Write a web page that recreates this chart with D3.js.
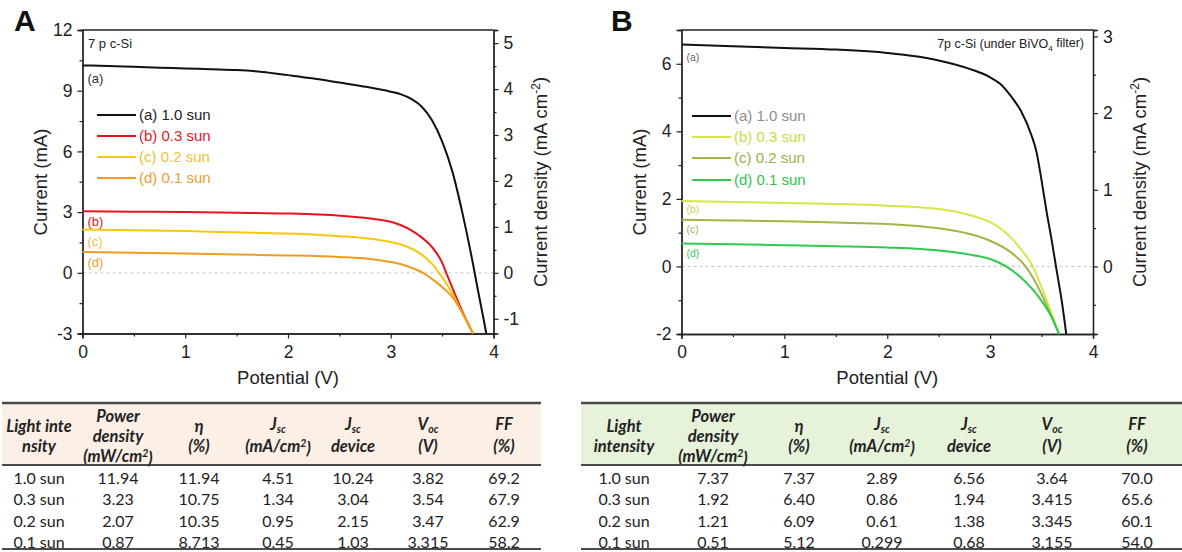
<!DOCTYPE html>
<html><head><meta charset="utf-8">
<script src="https://cdn.jsdelivr.net/npm/d3@7"></script>
<style>
html,body{margin:0;padding:0;background:#fff;}
svg{display:block;}
</style></head>
<body><svg id="chart" width="1182" height="552"></svg>
<script>
// ---------------- DATA ----------------
const sunLabels = ["(a) 1.0 sun", "(b) 0.3 sun", "(c) 0.2 sun", "(d) 0.1 sun"];
const curveTags = ["(a)", "(b)", "(c)", "(d)"];
const deviceArea = 2.27; // cm², ratio of Jsc device / Jsc

// Panel A (7 p c-Si)
const aV_a = [0, 0.25, 0.5, 0.75, 1.0, 1.25, 1.5, 1.75, 2.0, 2.25, 2.5, 2.75, 3.0, 3.1, 3.2, 3.3, 3.4, 3.5, 3.6, 3.7, 3.8, 3.85, 3.9, 3.93];
const aI_a = [10.25, 10.22, 10.18, 10.14, 10.1, 10.06, 10.02, 9.93, 9.77, 9.6, 9.4, 9.2, 8.95, 8.82, 8.6, 8.22, 7.55, 6.5, 5.0, 2.9, 0.45, -0.9, -2.2, -3];
const aV_b = [0, 0.5, 1.0, 1.5, 2.0, 2.5, 2.8, 3.0, 3.1, 3.2, 3.3, 3.4, 3.5, 3.54, 3.6, 3.7, 3.8];
const aI_b = [3.04, 3.02, 3.0, 2.97, 2.93, 2.82, 2.68, 2.52, 2.35, 2.1, 1.75, 1.28, 0.5, 0, -0.75, -1.95, -3];
const aV_c = [0, 0.5, 1.0, 1.5, 2.0, 2.5, 2.8, 3.0, 3.1, 3.2, 3.3, 3.4, 3.47, 3.55, 3.6, 3.7, 3.8];
const aI_c = [2.14, 2.1, 2.06, 2.0, 1.94, 1.81, 1.68, 1.52, 1.4, 1.2, 0.9, 0.45, 0, -0.6, -1.04, -2.04, -3];
const aV_d = [0, 0.5, 1.0, 1.5, 2.0, 2.5, 2.8, 3.0, 3.1, 3.2, 3.315, 3.4, 3.5, 3.6, 3.7, 3.8];
const aI_d = [1.03, 0.99, 0.95, 0.9, 0.86, 0.78, 0.68, 0.53, 0.42, 0.25, 0, -0.3, -0.7, -1.2, -2.0, -3];

// Panel B (7p c-Si under BiVO4 filter)
const bV_a = [0, 0.5, 1.0, 1.5, 2.0, 2.5, 2.8, 3.0, 3.1, 3.2, 3.3, 3.4, 3.45, 3.5, 3.55, 3.6, 3.64, 3.7, 3.74];
const bI_a = [6.57, 6.52, 6.47, 6.42, 6.32, 6.1, 5.85, 5.6, 5.4, 5.05, 4.6, 3.9, 3.4, 2.55, 1.6, 0.75, 0, -1.1, -2];
const bV_b = [0, 0.5, 1.0, 1.5, 2.0, 2.5, 2.7, 2.85, 3.0, 3.2, 3.3, 3.415, 3.5, 3.6, 3.67];
const bI_b = [1.94, 1.91, 1.88, 1.85, 1.8, 1.7, 1.6, 1.48, 1.31, 0.86, 0.51, 0, -0.62, -1.42, -2];
const bV_c = [0, 0.5, 1.0, 1.5, 2.0, 2.5, 2.8, 3.0, 3.2, 3.345, 3.5, 3.6, 3.67];
const bI_c = [1.38, 1.36, 1.34, 1.3, 1.26, 1.13, 0.96, 0.76, 0.42, 0, -0.82, -1.51, -2];
const bV_d = [0, 0.5, 1.0, 1.5, 2.0, 2.5, 2.8, 3.0, 3.155, 3.3, 3.5, 3.6, 3.67];
const bI_d = [0.68, 0.66, 0.63, 0.6, 0.56, 0.47, 0.35, 0.22, 0, -0.33, -1.02, -1.51, -2];

// Axis ticks
const xTicks = [0, 1, 2, 3, 4];
const xMinor = [0.5, 1.5, 2.5, 3.5];
const aYTicks = [-3, 0, 3, 6, 9, 12];
const aYMinor = [-1.5, 1.5, 4.5, 7.5, 10.5];
const aRTicks = [-1, 0, 1, 2, 3, 4, 5];
const aRMinor = [-0.5, 0.5, 1.5, 2.5, 3.5, 4.5];
const bYTicks = [-2, 0, 2, 4, 6];
const bYMinor = [-1, 1, 3, 5];
const bRTicks = [0, 1, 2, 3];
const bRMinor = [-0.5, 0.5, 1.5, 2.5];

// Tables
const intensityLabels = ["1.0 sun", "0.3 sun", "0.2 sun", "0.1 sun"];
const powerA = ["11.94", "3.23", "2.07", "0.87"];
const etaA = ["11.94", "10.75", "10.35", "8.713"];
const jscA = ["4.51", "1.34", "0.95", "0.45"];
const jscDevA = ["10.24", "3.04", "2.15", "1.03"];
const vocA = ["3.82", "3.54", "3.47", "3.315"];
const ffA = ["69.2", "67.9", "62.9", "58.2"];
const powerB = ["7.37", "1.92", "1.21", "0.51"];
const etaB = ["7.37", "6.40", "6.09", "5.12"];
const jscB = ["2.89", "0.86", "0.61", "0.299"];
const jscDevB = ["6.56", "1.94", "1.38", "0.68"];
const vocB = ["3.64", "3.415", "3.345", "3.155"];
const ffB = ["70.0", "65.6", "60.1", "54.0"];

// ---------------- DRAW ----------------
const svg = d3.select("#chart");
const AX = "'Liberation Sans', Arial, sans-serif";
const TB = "Lato, 'Open Sans', sans-serif";
const fmt = d => String(d);

function panel(cfg) {
  const g = svg.append("g");
  const x = d3.scaleLinear([0, 4], cfg.xr);
  const y = d3.scaleLinear(cfg.yd, cfg.yr);
  const yR = d3.scaleLinear([cfg.yd[0] / deviceArea, cfg.yd[1] / deviceArea], cfg.yr);

  // zero line
  g.append("line").attr("x1", x(0)).attr("x2", x(4)).attr("y1", y(0)).attr("y2", y(0))
    .attr("stroke", "#c8c8c8").attr("stroke-width", 1).attr("stroke-dasharray", "3,3");

  function styleAxis(sel) {
    sel.selectAll(".domain").attr("stroke", "#222").attr("stroke-width", 1.3);
    sel.selectAll(".tick line").attr("stroke", "#222").attr("stroke-width", 1.2);
    sel.selectAll("text").attr("font-family", AX).attr("font-size", 17.5).attr("fill", "#222");
  }
  // minor ticks
  const mk = (axis, vals) => axis.tickValues(vals).tickSize(3).tickFormat("");
  g.append("g").attr("transform", `translate(0,${cfg.yr[0]})`).call(mk(d3.axisBottom(x), xMinor)).call(styleAxis);
  g.append("g").attr("transform", `translate(${cfg.xr[0]},0)`).call(mk(d3.axisLeft(y), cfg.yMinor)).call(styleAxis);
  g.append("g").attr("transform", `translate(${cfg.xr[1]},0)`).call(mk(d3.axisRight(yR), cfg.rMinor)).call(styleAxis);
  // major axes
  g.append("g").attr("transform", `translate(0,${cfg.yr[0]})`)
    .call(d3.axisBottom(x).tickValues(xTicks).tickSize(5).tickPadding(7).tickFormat(fmt)).call(styleAxis);
  g.append("g").attr("transform", `translate(${cfg.xr[0]},0)`)
    .call(d3.axisLeft(y).tickValues(cfg.yTicks).tickSize(5).tickPadding(5).tickFormat(fmt)).call(styleAxis);
  g.append("g").attr("transform", `translate(${cfg.xr[1]},0)`)
    .call(d3.axisRight(yR).tickValues(cfg.rTicks).tickSize(5).tickPadding(5).tickFormat(fmt)).call(styleAxis);
  // top frame
  g.append("line").attr("x1", cfg.xr[0]).attr("x2", cfg.xr[1]).attr("y1", cfg.yr[1]).attr("y2", cfg.yr[1])
    .attr("stroke", "#222").attr("stroke-width", 1.3);

  // curves
  const line = d3.line().x(d => x(d[0])).y(d => y(d[1])).curve(d3.curveMonotoneX);
  cfg.series.forEach((s, i) => {
    const pts = s.V.map((v, k) => [v, s.I[k]]);
    g.append("path").attr("d", line(pts)).attr("fill", "none")
      .attr("stroke", cfg.colors[i]).attr("stroke-width", 2).attr("stroke-linejoin", "round");
  });

  // curve tags
  cfg.tagY.forEach((ty, i) => {
    g.append("text").attr("x", cfg.xr[0] + cfg.tagDx).attr("y", ty).attr("dy", "0.35em")
      .attr("font-family", AX).attr("font-size", cfg.tagSize).attr("fill", cfg.tagColors[i]).text(curveTags[i]);
  });

  // legend
  sunLabels.forEach((lab, i) => {
    const ly = cfg.legY[i];
    g.append("line").attr("x1", cfg.legX).attr("x2", cfg.legX + 39).attr("y1", ly).attr("y2", ly)
      .attr("stroke", cfg.colors[i]).attr("stroke-width", 2);
    g.append("text").attr("x", cfg.legX + 42).attr("y", ly).attr("dy", "0.35em")
      .attr("font-family", AX).attr("font-size", 15).attr("fill", cfg.legText[i]).text(lab);
  });

  // axis titles
  const midX = (cfg.xr[0] + cfg.xr[1]) / 2;
  g.append("text").attr("x", midX).attr("y", 378).attr("dy", "0.35em").attr("text-anchor", "middle")
    .attr("font-family", AX).attr("font-size", 18.5).attr("fill", "#222").text("Potential (V)");
  g.append("text").attr("transform", `translate(${cfg.xr[0] - 42},${182}) rotate(-90)`)
    .attr("text-anchor", "middle").attr("dy", "0.35em")
    .attr("font-family", AX).attr("font-size", 18.5).attr("fill", "#222").text("Current (mA)");
  const rt = g.append("text").attr("transform", `translate(${cfg.xr[1] + 47},${182}) rotate(-90)`)
    .attr("text-anchor", "middle").attr("dy", "0.35em")
    .attr("font-family", AX).attr("font-size", 18.5).attr("fill", "#222");
  rt.append("tspan").text("Current density (mA cm");
  rt.append("tspan").attr("font-size", 12).attr("dy", "-0.6em").text("-2");
  rt.append("tspan").attr("dy", "0.35em").text(")");

  // panel letter
  g.append("text").attr("x", cfg.letterX).attr("y", 31).attr("font-family", AX)
    .attr("font-weight", "bold").attr("font-size", 30).attr("fill", "#111").text(cfg.letter);
  return {g, x, y};
}

const pA = panel({
  letter: "A", letterX: 14,
  xr: [82.5, 493.5], yd: [-3, 12], yr: [333.5, 30],
  yTicks: aYTicks, yMinor: aYMinor, rTicks: aRTicks, rMinor: aRMinor,
  series: [{V: aV_a, I: aI_a}, {V: aV_b, I: aI_b}, {V: aV_c, I: aI_c}, {V: aV_d, I: aI_d}],
  colors: ["#111111", "#e8141c", "#f6c80e", "#f29a1e"],
  legText: ["#222222", "#e8141c", "#eec233", "#ef9d2e"],
  tagColors: ["#333333", "#e8141c", "#eec233", "#ef9d2e"],
  tagY: [78, 221, 241, 262], tagDx: 5, tagSize: 13,
  legX: 97, legY: [115, 136, 157, 178]
});
pA.g.append("text").attr("x", 88).attr("y", 43).attr("dy", "0.35em").attr("font-family", AX)
  .attr("font-size", 13).attr("fill", "#222").text("7 p c-Si");

const pB = panel({
  letter: "B", letterX: 611,
  xr: [681.5, 1093], yd: [-2, 7], yr: [334, 30],
  yTicks: bYTicks, yMinor: bYMinor, rTicks: bRTicks, rMinor: bRMinor,
  series: [{V: bV_a, I: bI_a}, {V: bV_b, I: bI_b}, {V: bV_c, I: bI_c}, {V: bV_d, I: bI_d}],
  colors: ["#111111", "#d6e64a", "#a4b446", "#2fca4e"],
  legText: ["#8c8c8c", "#cadb3a", "#9cae46", "#2fc44c"],
  tagColors: ["#666666", "#c8d64a", "#9cb04a", "#3cc45a"],
  tagY: [57, 209, 229, 253], tagDx: 5, tagSize: 10.5,
  legX: 692, legY: [116, 137, 158, 180]
});
{
  const t = pB.g.append("text").attr("x", 1084).attr("y", 44).attr("dy", "0.35em").attr("text-anchor", "end")
    .attr("font-family", AX).attr("font-size", 12.5).attr("fill", "#222");
  t.append("tspan").text("7p c-Si (under BiVO");
  t.append("tspan").attr("font-size", 8).attr("dy", "0.35em").text("4");
  t.append("tspan").attr("dy", "-0.35em").text(" filter)");
}

// ---------------- TABLES ----------------
function table(cfg) {
  const g = svg.append("g");
  const top = 403, hb = 465, bot = 549;
  g.append("rect").attr("x", cfg.x0).attr("y", top).attr("width", cfg.x1 - cfg.x0).attr("height", hb - top)
    .attr("fill", cfg.bg);
  [[top, 2.5], [hb, 2], [bot, 2]].forEach(([yy, w]) => {
    g.append("line").attr("x1", cfg.x0).attr("x2", cfg.x1).attr("y1", yy).attr("y2", yy)
      .attr("stroke", "#4a4a4a").attr("stroke-width", w);
  });
  const hdr = (cx, yy, parts) => {
    const t = g.append("text").attr("x", cx).attr("y", yy).attr("dy", "0.35em").attr("text-anchor", "middle")
      .attr("font-family", TB).attr("font-style", "italic").attr("font-weight", "bold")
      .attr("font-size", 16.5).attr("fill", "#222");
    parts.forEach(p => {
      const ts = t.append("tspan").text(p.t);
      if (p.sub) ts.attr("font-size", 10.5).attr("dy", "0.3em");
      if (p.sup) ts.attr("font-size", 10.5).attr("dy", "-0.45em");
      if (p.back) ts.attr("dy", p.back);
    });
  };
  const c = cfg.cols;
  cfg.light.forEach((s, i) => hdr(c[0], [426, 446][i], [{t: s}]));
  hdr(c[1], 416, [{t: "Power"}]);
  hdr(c[1], 436, [{t: "density"}]);
  hdr(c[1], 456, [{t: "(mW/cm"}, {t: "2", sup: true}, {t: ")", back: "0.45em"}]);
  hdr(c[2], 426, [{t: "η"}]);
  hdr(c[2], 446, [{t: "(%)"}]);
  hdr(c[3], 424, [{t: "J"}, {t: "sc", sub: true}]);
  hdr(c[3], 446, [{t: "(mA/cm"}, {t: "2", sup: true}, {t: ")", back: "0.45em"}]);
  hdr(c[4], 424, [{t: "J"}, {t: "sc", sub: true}]);
  hdr(c[4], 446, [{t: "device"}]);
  hdr(c[5], 424, [{t: "V"}, {t: "oc", sub: true}]);
  hdr(c[5], 446, [{t: "(V)"}]);
  hdr(c[6], 424, [{t: "FF"}]);
  hdr(c[6], 446, [{t: "(%)"}]);
  const rows = [478, 499.5, 521, 542.5];
  const colsData = [intensityLabels].concat(cfg.data);
  colsData.forEach((arr, ci) => {
    arr.forEach((v, ri) => {
      g.append("text").attr("x", c[ci]).attr("y", rows[ri]).attr("dy", "0.35em").attr("text-anchor", "middle")
        .attr("font-family", TB).attr("font-size", 16).attr("fill", "#222").text(v);
    });
  });
}
table({
  x0: 2, x1: 541, bg: "#fcefe6", light: ["Light inte", "nsity"],
  cols: [39, 118, 199, 278, 353, 428, 504],
  data: [powerA, etaA, jscA, jscDevA, vocA, ffA]
});
table({
  x0: 581, x1: 1182, bg: "#e6f2da", light: ["Light", "intensity"],
  cols: [624, 713, 799, 882, 969, 1052, 1137],
  data: [powerB, etaB, jscB, jscDevB, vocB, ffB]
});
</script></body></html>
